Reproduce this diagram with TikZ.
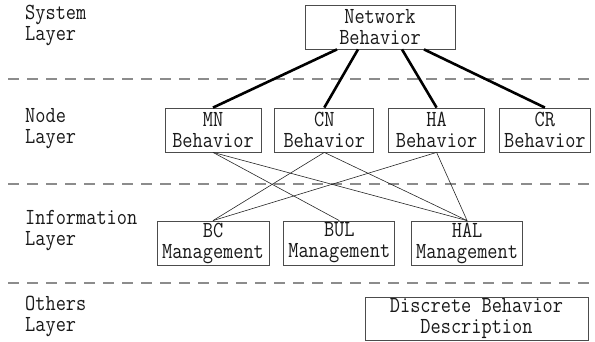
\documentclass[tikz,border=0pt]{standalone}
\usepackage{fontspec}
\setmonofont[FakeStretch=0.86]{Latin Modern Mono}
\usetikzlibrary{positioning}

\begin{document}
\begin{tikzpicture}[
    x=1pt, y=1pt,
    node distance=14pt,
    box/.style={draw=black!70, line width=0.8pt, align=center, inner sep=0pt,
        minimum height=44pt, text=black!90, font=\ttfamily\fontsize{23}{21}\selectfont},
    layer/.style={anchor=west, align=left, inner sep=0pt, text=black!90,
        font=\ttfamily\fontsize{23}{21}\selectfont},
    sep/.style={black!45, line width=1.2pt, dash pattern=on 11pt off 8pt},
    strong/.style={line width=2.6pt},
    weak/.style={line width=0.6pt, black!85},
]
    \useasboundingbox (0,0) rectangle (595,342);

    % layer separators
    \draw[sep] (8,263) -- (595,263);
    \draw[sep] (8,158) -- (595,158);
    \draw[sep] (8,59)  -- (595,59);

    % layer names
    \node[layer] (sysL)  at (25,316.5) {System\\Layer};
    \node[layer] (nodeL) at (25,213.5) {Node\\Layer};
    \node[layer] (infoL) at (25,111)   {Information\\Layer};
    \node[layer] (othL)  at (25,25.5)  {Others\\Layer};

    % system layer
    \node[box, minimum width=150pt] (net) at (380,315) {Network\\Behavior};

    % node layer
    \node[box, minimum width=96pt] (mn) at (213,212) {MN\\Behavior};
    \node[box, minimum width=99pt, right=13pt of mn] (cn) {CN\\Behavior};
    \node[box, minimum width=96pt, right=of cn] (ha) {HA\\Behavior};
    \node[box, minimum width=91pt, right=of ha] (cr) {CR\\Behavior};

    % information layer
    \node[box, minimum width=112pt] (bc) at (213,99) {BC\\Management};
    \node[box, minimum width=111pt, right=of bc] (bul) {BUL\\Management};
    \node[box, minimum width=111pt, right=16pt of bul] (hal) {HAL\\Management};

    % others layer
    \node[box, minimum width=223pt, minimum height=43pt] (disc) at (476.5,23.5) {Discrete Behavior\\Description};

    \draw[strong] ([xshift=-43pt]net.south) -- (mn.north);
    \draw[strong] ([xshift=-22pt]net.south) -- (cn.north);
    \draw[strong] ([xshift=22pt]net.south)  -- (ha.north);
    \draw[strong] ([xshift=44pt]net.south)  -- (cr.north);

    \draw[weak] (mn.south) -- (bul.north);
    \draw[weak] (mn.south) -- (hal.north);
    \draw[weak] (cn.south) -- (bc.north);
    \draw[weak] (cn.south) -- (hal.north);
    \draw[weak] (ha.south) -- (bc.north);
    \draw[weak] (ha.south) -- (hal.north);
\end{tikzpicture}
\end{document}
